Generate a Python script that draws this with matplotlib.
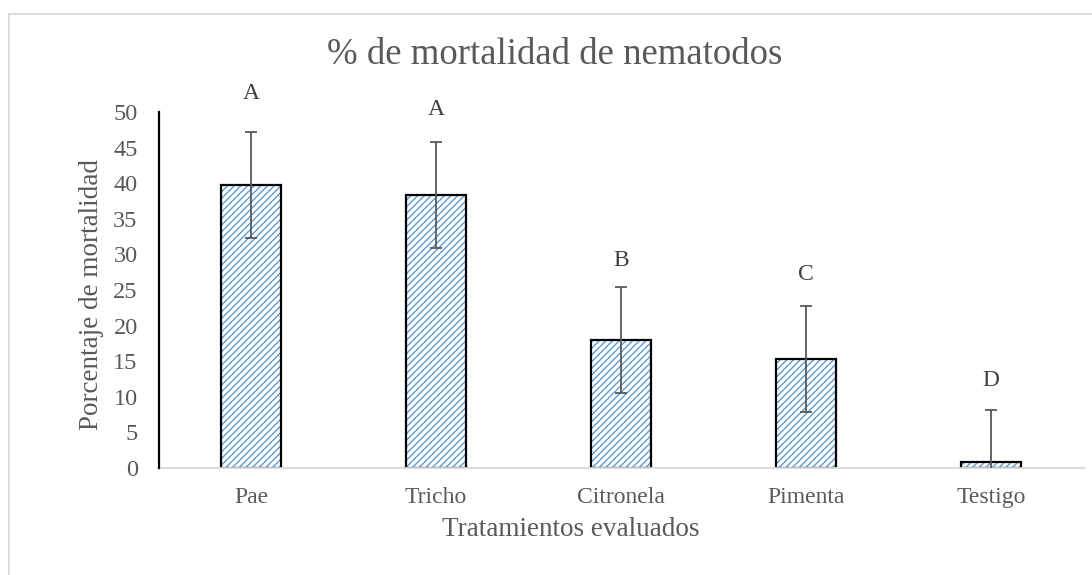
import matplotlib
matplotlib.use("Agg")
import matplotlib.pyplot as plt
from matplotlib.lines import Line2D

categories = ["Pae", "Tricho", "Citronela", "Pimenta", "Testigo"]
mortality = [39.8, 38.4, 18.0, 15.3, 0.8]
errors = [7.45, 7.45, 7.45, 7.4, 7.4]
letters = ["A", "A", "B", "C", "D"]
letter_offsets = [5.4, 4.5, 3.7, 4.5, 4.1]
yticks = [0, 5, 10, 15, 20, 25, 30, 35, 40, 45, 50]

plt.rcParams['font.family'] = ['Liberation Serif', 'DejaVu Serif']
plt.rcParams['hatch.linewidth'] = 1.0
gray = '#595959'

W, H = 1092, 575
fig = plt.figure(figsize=(W / 100, H / 100), dpi=100)

ax = fig.add_axes([158.5 / W, 1 - 468 / H, (1083.5 - 158.5) / W, (468 - 112) / H])
x = list(range(len(categories)))
# hatch layer (hatch colour follows edgecolor)
ax.bar(x, mortality, width=0.32, color='white', edgecolor='#5b9bd5', linewidth=0,
       hatch='/////', zorder=2)
# outline layer
ax.bar(x, mortality, width=0.32, fill=False, edgecolor='black', linewidth=1.6, zorder=2.5)
ax.errorbar(x, mortality, yerr=[errors, errors], fmt='none',
            ecolor=gray, elinewidth=1.3, capsize=4.3, capthick=1.3, zorder=3)

for xi, m, e, lab, off in zip(x, mortality, errors, letters, letter_offsets):
    ax.text(xi, m + e + off, lab, ha='center', va='center', fontsize=17, color='#404040')

ax.set_xlim(-0.5, len(categories) - 0.5)
ax.set_ylim(0, 50)
ax.set_yticks(yticks)
ax.set_yticklabels([str(t) for t in yticks], fontsize=17.5, color=gray)
ax.set_xticks(x)
ax.set_xticklabels(categories, fontsize=17, color=gray)
ax.tick_params(axis='both', length=0)
ax.tick_params(axis='y', pad=15)
ax.tick_params(axis='x', pad=14)
for s in ['top', 'right']:
    ax.spines[s].set_visible(False)
ax.spines['left'].set_color('black')
ax.spines['left'].set_linewidth(1.6)
ax.spines['left'].set_zorder(4)
ax.spines['bottom'].set_color('#d9d9d9')
ax.spines['bottom'].set_linewidth(1.3)

fig.text(555 / W, 1 - 55 / H, "% de mortalidad de nematodos", ha='center', va='center',
         fontsize=26.5, color=gray)
fig.text(571 / W, 1 - 530 / H, "Tratamientos evaluados", ha='center', va='center',
         fontsize=19.5, color=gray)
fig.text(92 / W, 1 - 295 / H, "Porcentaje de mortalidad", ha='center', va='center',
         fontsize=19.5, color=gray, rotation=90)

fig.add_artist(Line2D([8.5 / W, 8.5 / W], [0, 1 - 13.5 / H], transform=fig.transFigure,
                      color='#d9d9d9', linewidth=1.3))
fig.add_artist(Line2D([8.5 / W, 1], [1 - 13.5 / H, 1 - 13.5 / H], transform=fig.transFigure,
                      color='#d9d9d9', linewidth=1.3))

fig.savefig("out.png", dpi=100, facecolor='white')
